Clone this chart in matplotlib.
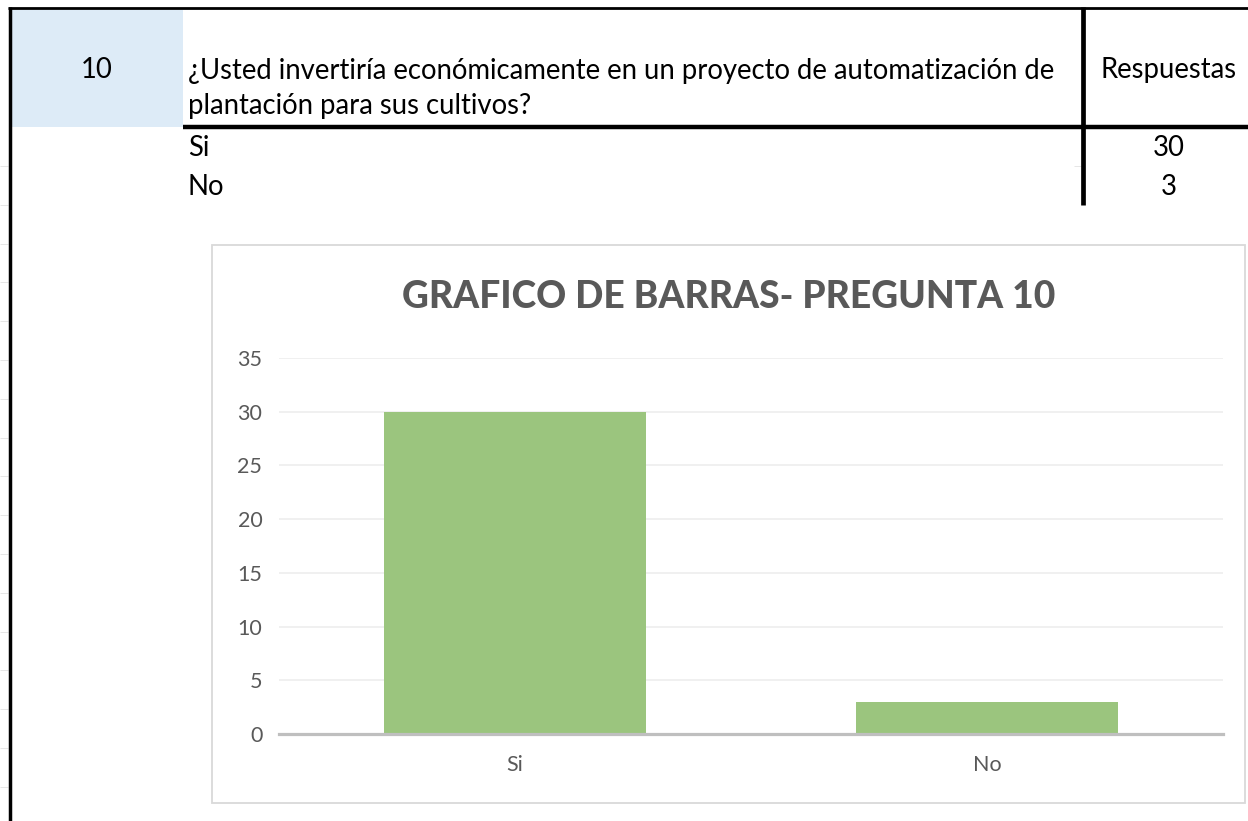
import matplotlib
matplotlib.use("Agg")
import matplotlib.pyplot as plt
from matplotlib.lines import Line2D
from matplotlib.patches import Rectangle

# ---- data ----
question_number = "10"
question_lines = ["¿Usted invertiría económicamente en un proyecto de automatización de",
                  "plantación para sus cultivos?"]
header_answers = "Respuestas"
categories = ["Si", "No"]
values = [30, 3]
chart_title = "GRAFICO DE BARRAS- PREGUNTA 10"
y_ticks = [0, 5, 10, 15, 20, 25, 30, 35]

W, H = 1248, 821
DPI = 100
FONT = "Lato"
plt.rcParams["font.family"] = [FONT, "DejaVu Sans"]

fig = plt.figure(figsize=(W / DPI, H / DPI), dpi=DPI)
fig.patch.set_facecolor("white")


def fx(x):
    return x / W


def fy(y):
    return 1 - y / H


def hline(x0, x1, y, lw, color="black", z=5):
    fig.add_artist(Line2D([fx(x0), fx(x1)], [fy(y), fy(y)], transform=fig.transFigure,
                          lw=lw, color=color, solid_capstyle="butt", zorder=z))


def vline(x, y0, y1, lw, color="black", z=5):
    fig.add_artist(Line2D([fx(x), fx(x)], [fy(y0), fy(y1)], transform=fig.transFigure,
                          lw=lw, color=color, solid_capstyle="butt", zorder=z))


renderer = fig.canvas.get_renderer()


def fit(t, target_w):
    w = t.get_window_extent(renderer).width
    t.set_fontsize(t.get_fontsize() * target_w / w)
    return t.get_fontsize()


# ---- spreadsheet part ----
fig.add_artist(Rectangle((fx(10), fy(127)), fx(183) - fx(10), fy(10) - fy(127),
                         transform=fig.transFigure, facecolor="#DDEBF7", edgecolor="none", zorder=1))
# faint row stubs at the far left
y = 166.0
while y < H:
    hline(0, 8, y, 0.6, color="#E2E2E2", z=2)
    y += 38.8
hline(1074, 1082, 166, 0.6, color="#E2E2E2", z=2)

# borders
hline(8, W, 8.5, 2.0)
vline(9.5, 7.5, H, 2.5)
hline(183, W, 127, 3.2)
vline(1083, 7.5, 205, 3.4)

t_q1 = fig.text(fx(188), fy(79), question_lines[0], ha="left", va="baseline",
                fontsize=18, color="black")
fs = fit(t_q1, 866)
fig.text(fx(188), fy(114), question_lines[1], ha="left", va="baseline", fontsize=fs, color="black")
fig.text(fx(97), fy(78), question_number, ha="center", va="baseline", fontsize=fs, color="black")
fig.text(fx(1169), fy(78), header_answers, ha="center", va="baseline", fontsize=fs, color="black")
row_base = [156, 195]
for cat, val, yb in zip(categories, values, row_base):
    fig.text(fx(188), fy(yb), cat, ha="left", va="baseline", fontsize=fs, color="black")
    fig.text(fx(1169), fy(yb), str(val), ha="center", va="baseline", fontsize=fs, color="black")

# ---- chart ----
fig.add_artist(Rectangle((fx(212), fy(803)), fx(1245) - fx(212), fy(245) - fy(803),
                         transform=fig.transFigure, facecolor="white", edgecolor="#D9D9D9",
                         lw=1.3, zorder=1))

ax = fig.add_axes([fx(279), fy(734), fx(1223) - fx(279), fy(358) - fy(734)])
ax.set_facecolor("none")
ax.set_zorder(3)
xpos = list(range(len(categories)))
ax.bar(xpos, values, width=0.557, color="#9BC57E", zorder=2)
ax.set_xlim(-0.5, len(categories) - 0.5)
ax.set_ylim(0, 35)
ax.set_yticks(y_ticks)
ax.set_yticklabels([str(v) for v in y_ticks])
ax.set_xticks(xpos)
ax.set_xticklabels(categories)
for s in ["top", "right", "left"]:
    ax.spines[s].set_visible(False)
ax.spines["bottom"].set_color("#BFBFBF")
ax.spines["bottom"].set_linewidth(2.3)
ax.spines["bottom"].set_zorder(4)
ax.grid(axis="y", color="#EFEFEF", lw=1.3, zorder=0)
ax.set_axisbelow(True)
ax.tick_params(axis="both", length=0, colors="#595959", labelsize=15.5)
ax.tick_params(axis="y", pad=12)
ax.tick_params(axis="x", pad=15)

t_title = fig.text(fx(729), fy(308), chart_title, ha="center", va="baseline",
                   fontsize=26, fontweight="black", color="#595959")
fit(t_title, 652)

fig.savefig("out.png", dpi=DPI, facecolor="white")
